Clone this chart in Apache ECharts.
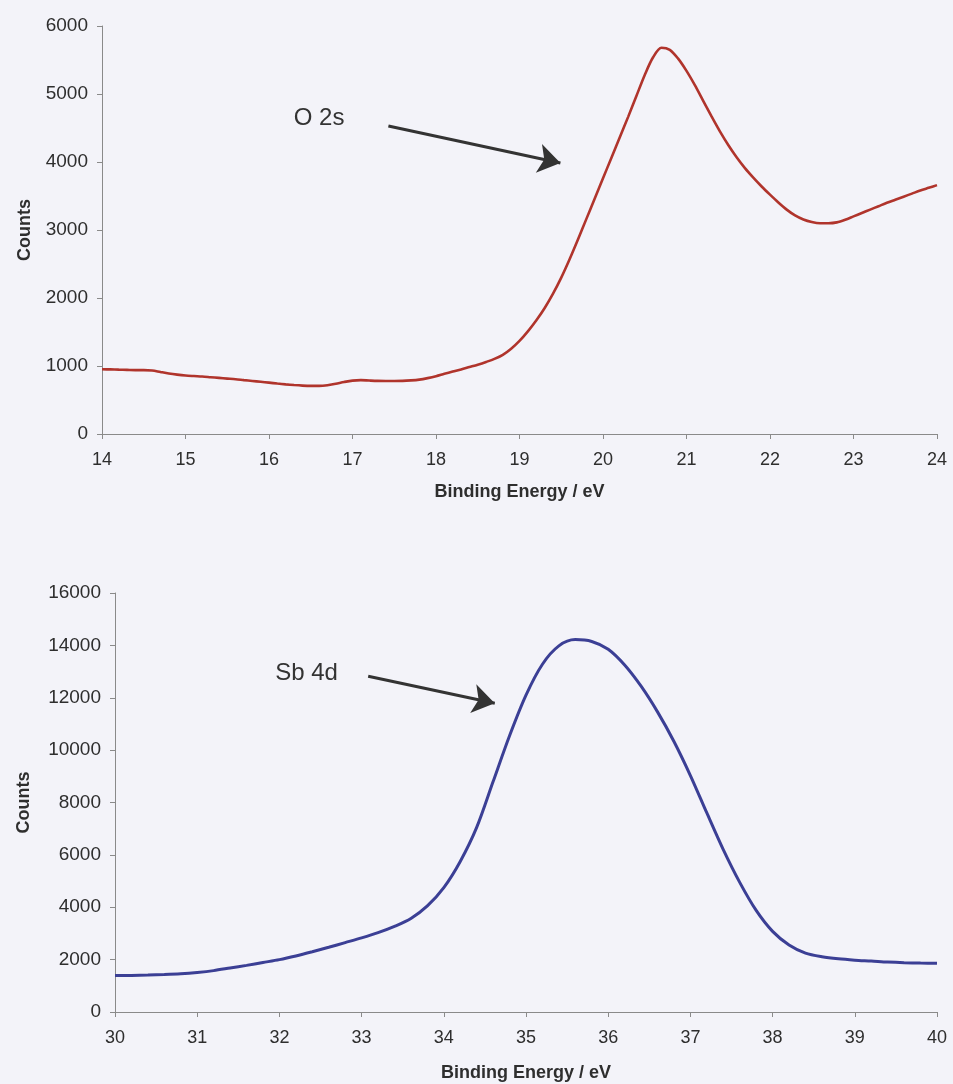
<!DOCTYPE html>
<html>
<head>
<meta charset="utf-8">
<title>XPS valence region: O 2s and Sb 4d</title>
<script src="https://cdn.jsdelivr.net/npm/echarts@6/dist/echarts.min.js"></script>
<style>
  html, body { margin: 0; padding: 0; background: #f3f3f9; }
  #chart { width: 953px; height: 1084px; }
</style>
</head>
<body>
<div id="chart"></div>
<script>
// O 2s region: binding energy (eV) and counts, 0.1 eV steps
const o2sEnergy = [14.0, 14.1, 14.2, 14.3, 14.4, 14.5, 14.6, 14.7, 14.8, 14.9,
  15.0, 15.1, 15.2, 15.3, 15.4, 15.5, 15.6, 15.7, 15.8, 15.9,
  16.0, 16.1, 16.2, 16.3, 16.4, 16.5, 16.6, 16.7, 16.8, 16.9,
  17.0, 17.1, 17.2, 17.3, 17.4, 17.5, 17.6, 17.7, 17.8, 17.9,
  18.0, 18.1, 18.2, 18.3, 18.4, 18.5, 18.6, 18.7, 18.8, 18.9,
  19.0, 19.1, 19.2, 19.3, 19.4, 19.5, 19.6, 19.7, 19.8, 19.9,
  20.0, 20.1, 20.2, 20.3, 20.4, 20.5, 20.6, 20.7, 20.8, 20.9,
  21.0, 21.1, 21.2, 21.3, 21.4, 21.5, 21.6, 21.7, 21.8, 21.9,
  22.0, 22.1, 22.2, 22.3, 22.4, 22.5, 22.6, 22.7, 22.8, 22.9,
  23.0, 23.1, 23.2, 23.3, 23.4, 23.5, 23.6, 23.7, 23.8, 23.9, 24.0];
const o2sCounts = [952, 950, 946, 943, 940, 940, 935, 912, 890, 873,
  860, 852, 845, 835, 825, 815, 805, 792, 780, 768,
  755, 742, 730, 720, 712, 708, 708, 718, 740, 765,
  785, 792, 786, 781, 780, 780, 781, 788, 800, 822,
  850, 885, 918, 950, 985, 1020, 1060, 1105, 1165, 1255,
  1370, 1510, 1670, 1850, 2060, 2300, 2570, 2860, 3160, 3460,
  3760, 4060, 4360, 4660, 4970, 5280, 5540, 5680, 5650, 5520,
  5340, 5130, 4900, 4670, 4450, 4250, 4070, 3910, 3770, 3640,
  3520, 3405, 3300, 3215, 3155, 3118, 3100, 3100, 3112, 3150,
  3200, 3250, 3300, 3350, 3400, 3445, 3490, 3535, 3580, 3620, 3660];

// Sb 4d region: binding energy (eV) and counts, 0.2 eV steps
const sb4dEnergy = [30.0, 30.2, 30.4, 30.6, 30.8, 31.0, 31.2, 31.4, 31.6, 31.8,
  32.0, 32.2, 32.4, 32.6, 32.8, 33.0, 33.2, 33.4, 33.6, 33.8,
  34.0, 34.2, 34.4, 34.6, 34.8, 35.0, 35.2, 35.4, 35.6, 35.8,
  36.0, 36.2, 36.4, 36.6, 36.8, 37.0, 37.2, 37.4, 37.6, 37.8,
  38.0, 38.2, 38.4, 38.6, 38.8, 39.0, 39.2, 39.4, 39.6, 39.8, 40.0];
const sb4dCounts = [1390, 1398, 1410, 1430, 1460, 1510, 1580, 1680, 1780, 1890,
  2000, 2140, 2300, 2470, 2650, 2830, 3030, 3270, 3570, 4050,
  4750, 5750, 7050, 8800, 10550, 12100, 13280, 13980, 14220, 14150,
  13850, 13250, 12440, 11460, 10330, 9030, 7600, 6200, 4950, 3880,
  3080, 2560, 2250, 2110, 2030, 1980, 1945, 1905, 1880, 1868, 1860];

// Axis ranges and tick steps: [min, max, interval]
const o2sXRange = [14, 24, 1];
const o2sYRange = [0, 6000, 1000];
const sb4dXRange = [30, 40, 1];
const sb4dYRange = [0, 16000, 2000];

// Annotation text and arrow endpoints, in data units [eV, counts]
const o2sLabel = { text: 'O 2s', at: [16.60, 4637] };
const o2sArrow = [[17.43, 4529], [19.49, 3985]];
const sb4dLabel = { text: 'Sb 4d', at: [32.33, 12942] };
const sb4dArrow = [[33.08, 12819], [34.62, 11790]];

const xTitle = 'Binding Energy / eV';
const yTitle = 'Counts';

const zip = (xs, ys) => xs.map((x, i) => [x, ys[i]]);

const FONT = 'Liberation Sans, Arial, Helvetica, sans-serif';
const axisGray = '#8a8a8a';
const textDark = '#2e2e2e';

function xAxisFor(gridIndex, range, gap) {
  return {
    gridIndex, type: 'value', min: range[0], max: range[1], interval: range[2],
    name: xTitle, nameLocation: 'middle', nameGap: gap,
    nameTextStyle: { fontFamily: FONT, fontWeight: 'bold', fontSize: 18, color: textDark },
    axisLine: { show: true, lineStyle: { color: axisGray, width: 1 } },
    axisTick: { show: true, length: 5, lineStyle: { color: axisGray } },
    axisLabel: { fontFamily: FONT, fontSize: 18, color: textDark, margin: 17 },
    splitLine: { show: false }
  };
}

function yAxisFor(gridIndex, range, gap) {
  return {
    gridIndex, type: 'value', min: range[0], max: range[1], interval: range[2],
    name: yTitle, nameLocation: 'middle', nameGap: gap, nameRotate: 90,
    nameTextStyle: { fontFamily: FONT, fontWeight: 'bold', fontSize: 18, color: textDark },
    axisLine: { show: true, lineStyle: { color: axisGray, width: 1 } },
    axisTick: { show: true, length: 5, lineStyle: { color: axisGray } },
    axisLabel: { fontFamily: FONT, fontSize: 19, color: textDark, margin: 14,
                 formatter: (v) => String(v) },
    splitLine: { show: false }
  };
}

// Peak name plus an arrow pointing at the curve
function annotated(label, arrow) {
  return {
    markPoint: {
      silent: true, animation: false,
      symbol: 'circle', symbolSize: 0,
      label: { show: true, position: 'inside', formatter: label.text,
               fontFamily: FONT, fontSize: 24, color: '#333' },
      data: [{ coord: label.at }]
    },
    markLine: {
      silent: true, animation: false,
      symbol: ['none', 'arrow'], symbolSize: 22,
      lineStyle: { color: '#333', width: 3, type: 'solid' },
      label: { show: false },
      data: [[{ coord: arrow[0] }, { coord: arrow[1] }]]
    }
  };
}

const chart = echarts.init(document.getElementById('chart'), null, { renderer: 'canvas' });
chart.setOption({
  backgroundColor: '#f3f3f9',
  animation: false,
  grid: [
    { left: 102, top: 26, width: 835, height: 408 },
    { left: 115, top: 593, width: 822, height: 419 }
  ],
  xAxis: [xAxisFor(0, o2sXRange, 49), xAxisFor(1, sb4dXRange, 52)],
  yAxis: [yAxisFor(0, o2sYRange, 68), yAxisFor(1, sb4dYRange, 82)],
  series: [
    Object.assign({
      name: 'O 2s', type: 'line', xAxisIndex: 0, yAxisIndex: 0,
      data: zip(o2sEnergy, o2sCounts), smooth: 0.3, showSymbol: false,
      lineStyle: { color: '#b0342c', width: 2.6 }
    }, annotated(o2sLabel, o2sArrow)),
    Object.assign({
      name: 'Sb 4d', type: 'line', xAxisIndex: 1, yAxisIndex: 1,
      data: zip(sb4dEnergy, sb4dCounts), smooth: 0.3, showSymbol: false,
      lineStyle: { color: '#3b3f95', width: 3 }
    }, annotated(sb4dLabel, sb4dArrow))
  ]
});
</script>
</body>
</html>
